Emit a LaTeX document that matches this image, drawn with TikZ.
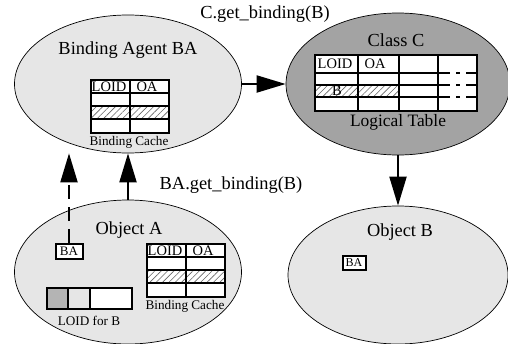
\documentclass[tikz,border=0pt]{standalone}
\usepackage{fontspec}
\setmainfont{Liberation Serif}
\usetikzlibrary{shapes.geometric,arrows.meta,patterns.meta}
\definecolor{objgray}{RGB}{230,230,230}
\definecolor{classgray}{RGB}{163,163,163}
\definecolor{cellgray}{RGB}{180,180,180}

\begin{document}
\begin{tikzpicture}[x=1pt,y=-1pt,
		obj/.style={ellipse, draw, fill=objgray, line width=0.7pt, inner sep=0pt},
		arr/.style={line width=2pt, -{Triangle[length=29pt,width=17pt]}},
		tbl/.style={line width=2pt},
		hatch/.style={pattern={Lines[angle=45,distance=4.5pt,line width=0.6pt]}, pattern color=black!60},
		big/.style={font=\fontsize{18.4}{20}\selectfont},
		small/.style={font=\fontsize{13.2}{14}\selectfont},
		cell/.style={font=\fontsize{14.5}{16}\selectfont, inner sep=0pt},
		babox/.style={draw, line width=2pt, fill=white, inner sep=0pt, minimum width=27pt, minimum height=15pt}]
			\useasboundingbox (0,0) rectangle (508,343);
			% the four objects
			\node[obj, minimum width=227pt, minimum height=138pt] (ba) at (128,84) {};
			\node[obj, fill=classgray, minimum width=224pt, minimum height=142pt] (cc) at (398,84) {};
			\node[obj, minimum width=227pt, minimum height=144pt] (oa) at (128,272) {};
			\node[obj, minimum width=220pt, minimum height=138pt] (ob) at (398,275) {};
			\node[big] (batitle) at (128,50) {Binding Agent BA};
			\node[big] (cctitle) at (396,40) {Class C};
			\node[big] (oatitle) at (129,230) {Object A};
			\node[big] (obtitle) at (400,232) {Object B};
			% binding caches
			\foreach \tx/\ty/\nm in {91/80/bcache, 147/244/acache} {
				\fill[white] (\tx,\ty) rectangle ++(78,53);
				\fill[hatch] (\tx,\ty+26) rectangle ++(78,13);
				\draw[tbl] (\tx,\ty) rectangle ++(78,53);
				\draw[tbl] (\tx+39,\ty) -- ++(0,53);
				\foreach \r in {13,26,39}
					\draw[tbl] (\tx,\ty+\r) -- ++(78,0);
				\node[cell] at (\tx+18,\ty+6.5) {LOID};
				\node[cell] at (\tx+56,\ty+6.5) {OA};
				\node[small] (\nm) at (\tx+38,\ty+62) {Binding Cache};
			}
			% logical table
			\fill[white] (315,55) rectangle (477,111);
			\fill[hatch] (315,85) rectangle (399,97);
			\draw[tbl] (315,55) rectangle (477,111);
			\foreach \c in {358,399,438}
				\draw[tbl] (\c,55) -- (\c,111);
			\foreach \r in {73,85,97} {
				\draw[tbl] (315,\r) -- (438,\r);
				\draw[tbl, dash pattern=on 12pt off 6pt on 4pt off 6pt] (438,\r) -- (477,\r);
			}
			\node[cell] at (335,64) {LOID};
			\node[cell] at (375,64) {OA};
			\node[cell] at (337,91) {B};
			\node[font=\fontsize{17.4}{19}\selectfont] (ltab) at (398,122) {Logical Table};
			% LOID for B
			\fill[cellgray] (47,288) rectangle (68,309);
			\fill[white] (90,288) rectangle (132,309);
			\draw[tbl] (47,288) rectangle (132,309);
			\draw[tbl] (68,288) -- (68,309);
			\draw[tbl] (90,288) -- (90,309);
			\node[small] (loidb) at (89,321) {LOID for B};
			\node[babox, font=\fontsize{13}{14}\selectfont] (baA) at (69,251) {BA};
			\node[babox, minimum width=23pt, minimum height=14pt, font=\fontsize{12}{13}\selectfont] (baB) at (354,263) {BA};
			% calls
			\draw[arr] (ba.east) -- (cc.west);
			\node[big] (cget) at (265,14) {C.get\_binding(B)};
			\draw[arr] (cc.south) -- (ob.north);
			\draw[arr] (oa.north) -- (ba.south);
			\node[big] (baget) at (231,185) {BA.get\_binding(B)};
			\draw[arr, dash pattern=on 14pt off 8pt] (baA.north) -- (baA.north |- ba.south);
		\end{tikzpicture}
\end{document}
